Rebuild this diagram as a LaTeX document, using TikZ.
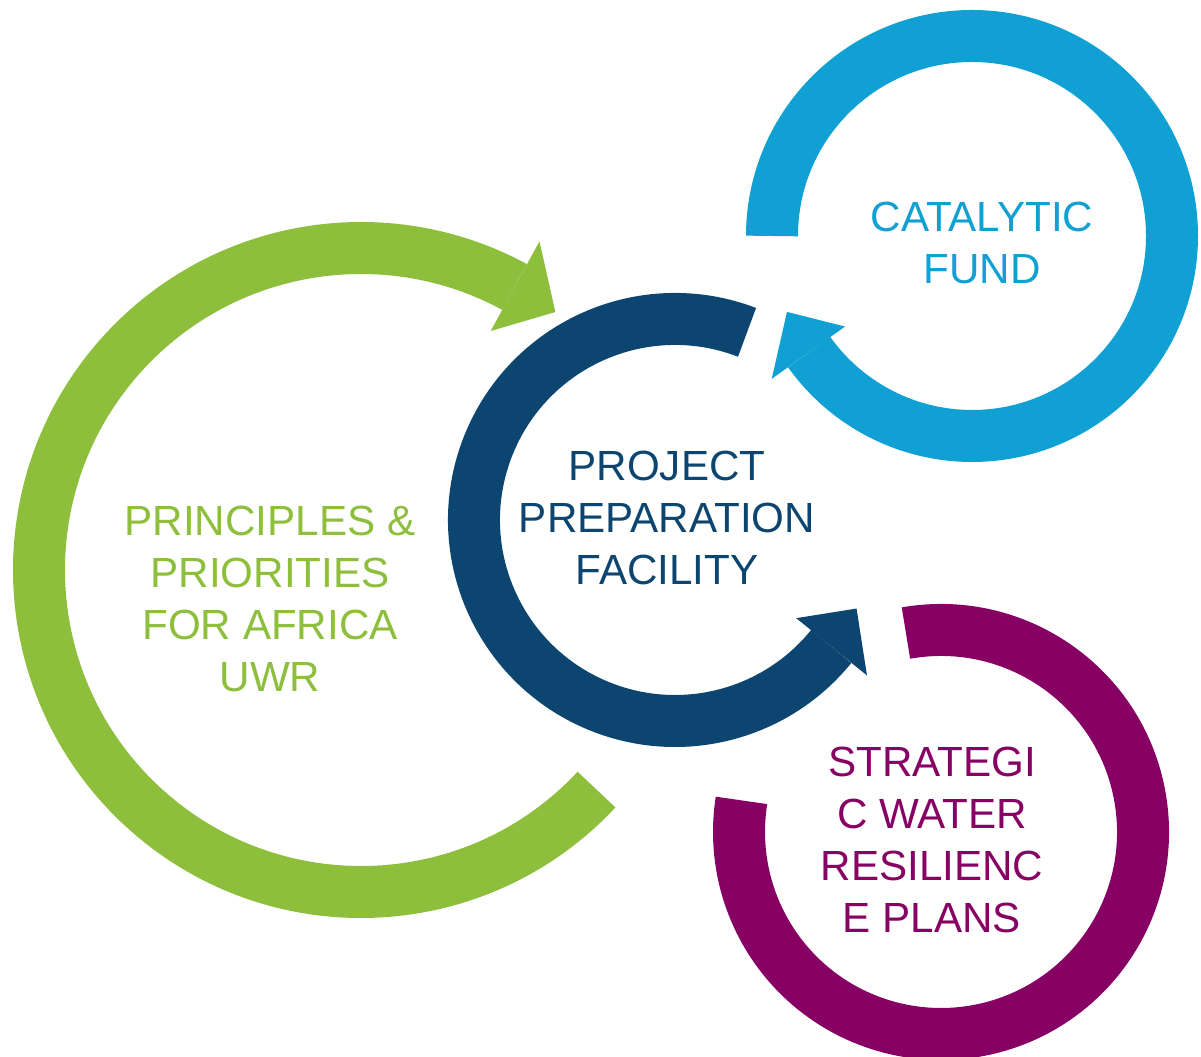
\documentclass[tikz,border=0pt]{standalone}
\usepackage{fontspec}
\setmainfont{Liberation Sans}

\definecolor{uwrgreen}{RGB}{141,190,60}
\definecolor{ppfblue}{RGB}{12,70,112}
\definecolor{cfcyan}{RGB}{16,160,212}
\definecolor{swrpurple}{RGB}{135,0,100}

\begin{document}
\begin{tikzpicture}[
                ring/.style={line width=5.2mm},
                ringtext/.style={align=center, inner sep=0pt,
                    font=\fontsize{12}{14.8}\selectfont} ]

            \useasboundingbox (0,0) rectangle (12.01,10.57);

            \coordinate (G) at (3.61,4.87);
            \coordinate (P) at (6.75,5.37);
            \coordinate (C) at (9.72,8.21);
            \coordinate (S) at (9.41,2.25);

            % green ring and its head
            \draw[ring, uwrgreen]
            ([shift={(-43:3.22)}]G) arc[start angle=-43, end angle=-298.5, radius=3.22];
            \fill[uwrgreen] ([shift={(61.5:2.72)}]G) -- ([shift={(61.5:3.74)}]G)
                -- ([shift={(53:3.23)}]G) -- cycle;

            % blue ring and its head
            \draw[ring, ppfblue]
            ([shift={(69:2.01)}]P) arc[start angle=69, end angle=321, radius=2.01];
            \fill[ppfblue] ([shift={(321:1.56)}]P) -- ([shift={(321:2.47)}]P)
                -- ([shift={(334:2.02)}]P) -- cycle;

            % cyan ring and its head
            \draw[ring, cfcyan]
            ([shift={(180:2.00)}]C) arc[start angle=180, end angle=-144.5, radius=2.00];
            \fill[cfcyan] ([shift={(-144.5:1.56)}]C) -- ([shift={(-144.5:2.46)}]C)
                -- ([shift={(-157.7:2.00)}]C) -- cycle;

            % purple ring
            \draw[ring, swrpurple]
            ([shift={(100:2.02)}]S) arc[start angle=100, end angle=-189, radius=2.02];

            \node[ringtext, text=uwrgreen] (uwr) at (2.70,4.58)
                {PRINCIPLES \&\\PRIORITIES\\FOR AFRICA\\UWR};
            \node[ringtext, text=ppfblue] (ppf) at (6.67,5.39)
                {PROJECT\\PREPARATION\\FACILITY};
            \node[ringtext, text=cfcyan] (cf) at (9.82,8.14)
                {CATALYTIC\\FUND};
            \node[ringtext, text=swrpurple] (swr) at (9.32,2.17)
                {STRATEGI\\C WATER\\RESILIENC\\E PLANS};
        \end{tikzpicture}
\end{document}
